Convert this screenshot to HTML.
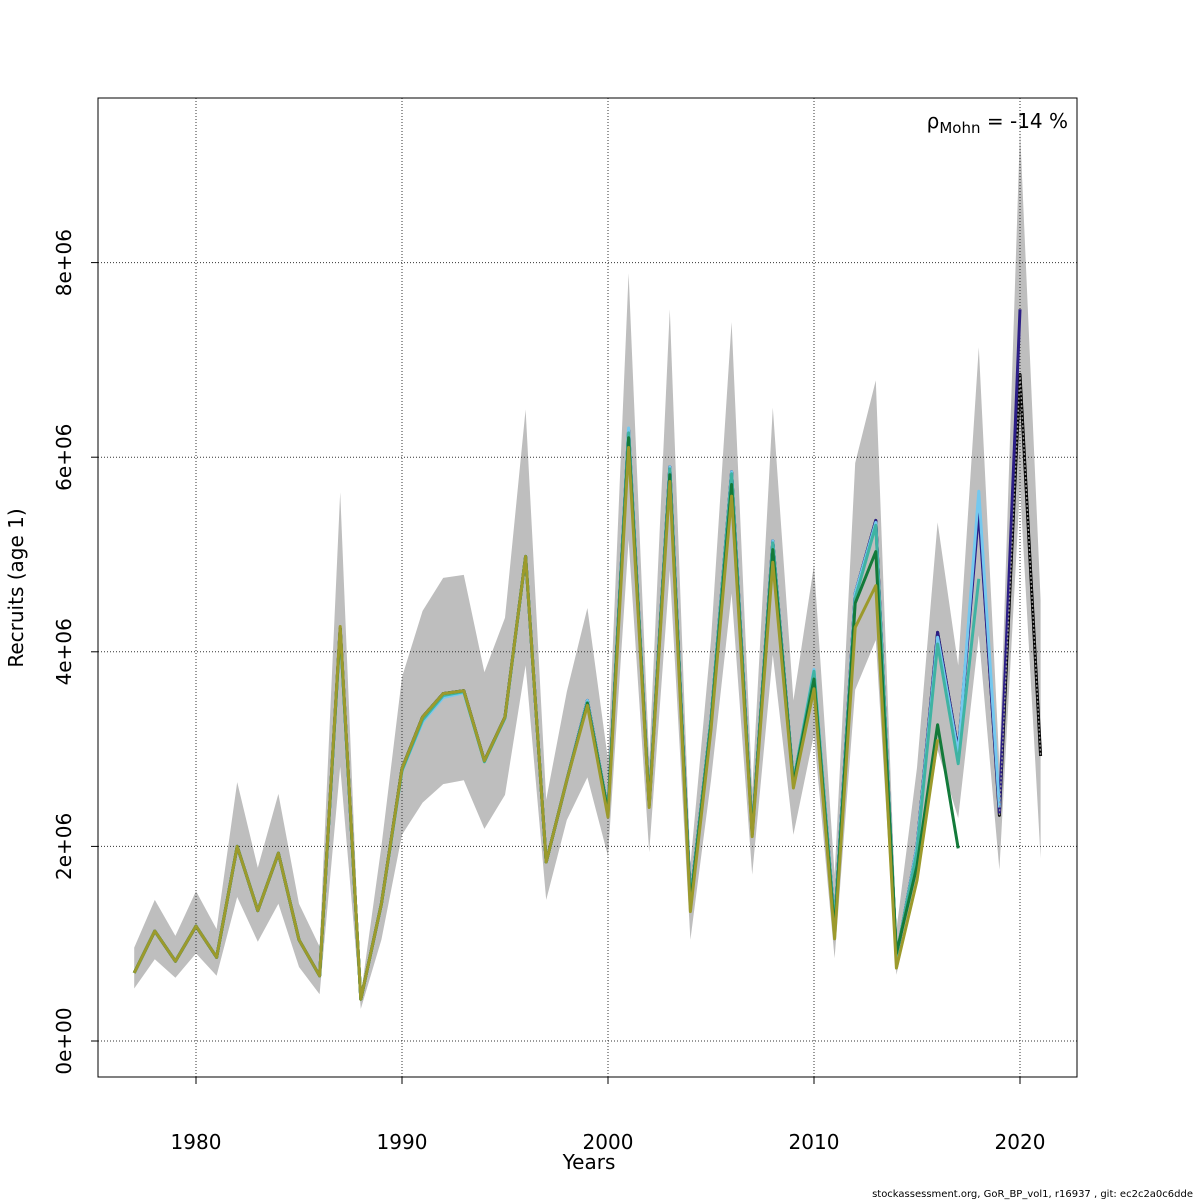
<!DOCTYPE html>
<html><head><meta charset="utf-8"><style>
body{margin:0;background:#fff}
svg{display:block;font-family:"DejaVu Sans","Liberation Sans",sans-serif}
</style></head><body>
<svg id="chart" width="1200" height="1200" viewBox="0 0 1200 1200" xmlns="http://www.w3.org/2000/svg">
<rect width="1200" height="1200" fill="#fff"/>
<g id="band"></g>
<g id="grid"></g>
<g id="lines"></g>
<rect x="98" y="98" width="979" height="979" fill="none" stroke="#000" stroke-width="1"/>
<g id="axes"></g>
<text x="1068" y="128" font-size="20" text-anchor="end">ρ<tspan font-size="15" dy="5">Mohn</tspan><tspan dy="-5"> = -14 %</tspan></text>
<text x="589" y="1169" font-size="20" text-anchor="middle">Years</text>
<text x="0" y="0" font-size="20" text-anchor="middle" transform="translate(23,588) rotate(-90)">Recruits (age 1)</text>
<text x="1193" y="1197" font-size="10" text-anchor="end">stockassessment.org, GoR_BP_vol1, r16937 , git: ec2c2a0c6dde</text>
</svg>
<script>
const years=[1977,1978,1979,1980,1981,1982,1983,1984,1985,1986,1987,1988,1989,1990,1991,1992,1993,1994,1995,1996,1997,1998,1999,2000,2001,2002,2003,2004,2005,2006,2007,2008,2009,2010,2011,2012,2013,2014,2015,2016,2017,2018,2019,2020,2021];
const upper=[0.96,1.45,1.08,1.54,1.15,2.66,1.78,2.54,1.41,0.97,5.64,0.47,2.0,3.74,4.42,4.76,4.79,3.79,4.35,6.49,2.48,3.59,4.45,2.89,7.89,2.89,7.52,1.81,4.12,7.39,2.58,6.51,3.5,4.89,1.71,5.94,6.79,1.14,2.81,5.33,3.86,7.13,2.84,9.36,4.53];
const lower=[0.54,0.84,0.65,0.9,0.67,1.48,1.02,1.41,0.76,0.48,2.82,0.33,1.04,2.12,2.45,2.64,2.68,2.18,2.53,3.86,1.45,2.27,2.71,1.9,5.15,1.94,4.84,1.04,2.68,4.6,1.71,3.97,2.12,3.15,0.85,3.61,4.12,0.68,1.65,2.99,2.29,4.17,1.76,5.7,1.88];
const s0=[0.70,1.13,0.82,1.18,0.86,2.0,1.34,1.93,1.04,0.67,4.24,0.43,1.41,2.8,3.33,3.57,3.6,2.88,3.33,4.98,1.84,2.68,3.5,2.37,6.28,2.43,5.9,1.45,3.3,5.85,2.14,5.14,2.66,3.78,1.2,4.6,5.35,0.85,2.0,4.2,2.98,5.5,2.32,6.85,2.93];
const s1=[0.70,1.13,0.82,1.18,0.86,2.0,1.34,1.93,1.04,0.67,4.24,0.43,1.41,2.8,3.33,3.57,3.6,2.88,3.33,4.98,1.84,2.68,3.5,2.37,6.28,2.43,5.9,1.45,3.3,5.85,2.14,5.14,2.66,3.78,1.2,4.6,5.35,0.85,2.0,4.2,2.98,5.45,2.35,7.52];
const s2=[0.70,1.13,0.82,1.18,0.86,2.0,1.34,1.93,1.04,0.67,4.22,0.43,1.41,2.78,3.28,3.53,3.58,2.87,3.32,4.98,1.84,2.68,3.5,2.37,6.3,2.43,5.9,1.45,3.3,5.85,2.14,5.14,2.66,3.82,1.2,4.6,5.33,0.85,2.0,4.15,2.95,5.65,2.4];
const s3=[0.70,1.13,0.82,1.18,0.86,2.0,1.34,1.93,1.04,0.67,4.22,0.43,1.41,2.78,3.3,3.55,3.59,2.87,3.32,4.98,1.84,2.68,3.48,2.37,6.25,2.43,5.88,1.43,3.3,5.83,2.14,5.12,2.66,3.8,1.18,4.55,5.3,0.88,1.95,4.08,2.85,4.75];
const s4=[0.70,1.13,0.82,1.18,0.86,2.0,1.34,1.93,1.04,0.67,4.24,0.43,1.41,2.8,3.33,3.57,3.6,2.88,3.33,4.98,1.84,2.68,3.47,2.35,6.2,2.42,5.82,1.4,3.25,5.72,2.12,5.05,2.64,3.72,1.12,4.5,5.03,0.9,1.8,3.25,1.98];
const s5=[0.70,1.13,0.82,1.18,0.86,2.0,1.34,1.93,1.04,0.67,4.26,0.43,1.41,2.8,3.33,3.57,3.6,2.88,3.33,4.98,1.84,2.68,3.45,2.3,6.1,2.4,5.75,1.33,3.2,5.6,2.1,4.92,2.6,3.62,1.05,4.25,4.68,0.75,1.65,3.1];
const xTicks=[1980,1990,2000,2010,2020];
const xTickLabels=["1980","1990","2000","2010","2020"];
const yTicks=[0,2,4,6,8];
const yTickLabels=["0e+00","2e+06","4e+06","6e+06","8e+06"];

const NS="http://www.w3.org/2000/svg";
function X(yr){return 196+(yr-1980)*20.6;}
function Y(v){return 1041-v*97.3;}
function mk(tag,attrs,parent){const e=document.createElementNS(NS,tag);for(const k in attrs)e.setAttribute(k,attrs[k]);parent.appendChild(e);return e;}

const band=document.getElementById('band');
let pts=years.map((y,i)=>X(y)+','+Y(upper[i]));
for(let i=years.length-1;i>=0;i--)pts.push(X(years[i])+','+Y(lower[i]));
const poly=mk('polygon',{points:pts.join(' '),fill:'#bebebe',stroke:'none'},band);



const grid=document.getElementById('grid');
xTicks.forEach(t=>{const l=mk('line',{x1:X(t),x2:X(t),y1:98,y2:1077,stroke:'#333','stroke-width':1,'stroke-dasharray':'1,2'},grid);

});
yTicks.forEach(t=>{const l=mk('line',{x1:98,x2:1077,y1:Y(t),y2:Y(t),stroke:'#333','stroke-width':1,'stroke-dasharray':'1,2'},grid);

});

const lines=document.getElementById('lines');
const series=[[s0,'#000000','series-full'],[s1,'#2b1d86','series-peel-1'],[s2,'#74c8ef','series-peel-2'],[s3,'#3fb3a2','series-peel-3'],[s4,'#137a3a','series-peel-4'],[s5,'#9c9a2c','series-peel-5']];
series.forEach(([d,c,n])=>{
  const p=mk('polyline',{points:d.map((v,i)=>X(years[i])+','+Y(v)).join(' '),fill:'none',stroke:c,'stroke-width':3,'stroke-linejoin':'round'},lines);
  
  
});
const dt=mk('polyline',{points:s0.slice(-3).map((v,i)=>X(years[years.length-3+i])+','+Y(v)).join(' '),fill:'none',stroke:'#999','stroke-width':1.5,'stroke-dasharray':'2,2'},lines);



const axes=document.getElementById('axes');
xTicks.forEach((t,i)=>{mk('line',{x1:X(t),x2:X(t),y1:1077,y2:1084,stroke:'#000'},axes);
  const tx=mk('text',{x:X(t),y:1149,'font-size':20,'text-anchor':'middle'},axes);tx.textContent=xTickLabels[i];
  
  });
yTicks.forEach((t,i)=>{mk('line',{x1:91,x2:98,y1:Y(t),y2:Y(t),stroke:'#000'},axes);
  const tx=mk('text',{x:0,y:0,'font-size':20,'text-anchor':'middle',transform:'translate(71,'+Y(t)+') rotate(-90)'},axes);tx.textContent=yTickLabels[i];
  
  });
</script>
</body></html>
